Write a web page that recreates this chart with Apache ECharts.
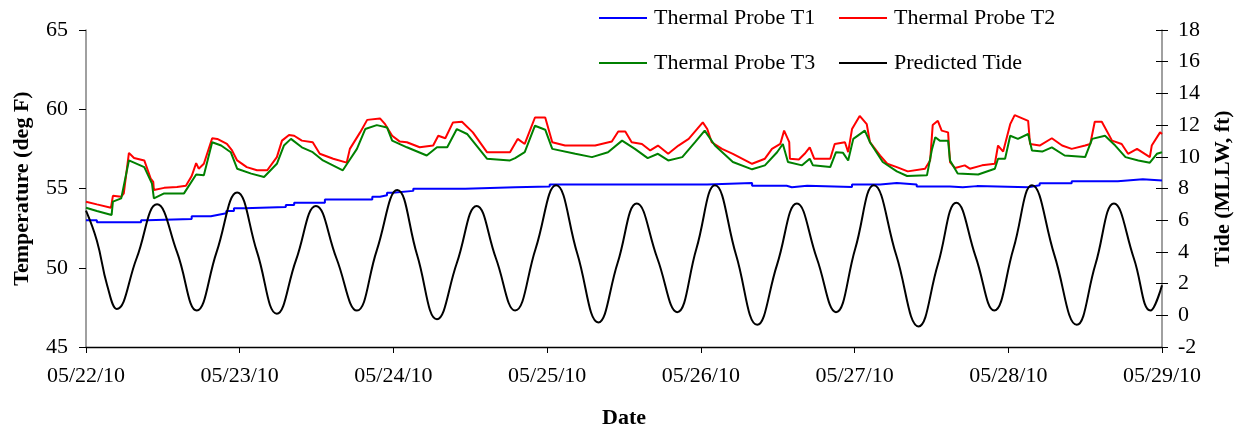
<!DOCTYPE html>
<html>
<head>
<meta charset="utf-8">
<script src="https://cdn.jsdelivr.net/npm/echarts@6/dist/echarts.min.js"></script>
<style>
html,body{margin:0;padding:0;background:#fff;}
#chart{width:1242px;height:434px;}
</style>
</head>
<body>
<div id="chart"></div>
<script>
// hours since 05/22/10 00:00, value
var dateLabels = ['05/22/10','05/23/10','05/24/10','05/25/10','05/26/10','05/27/10','05/28/10','05/29/10'];

var probeT1 = [[0,53.0],[1.7,52.87],[8.6,53.0],[9.5,53.08],[16.5,53.25],[19.5,53.33],[20.5,53.44],[21.9,53.58],[23.1,53.75],[24.7,53.83],[31.2,53.96],[32.5,54.1],[37.3,54.3],[44.7,54.48],[45.9,54.58],[47.0,54.73],[47.9,54.85],[51.1,54.98],[59.2,55.08],[67.0,55.12],[72.4,55.25],[97.0,55.35],[104.0,55.17],[109.4,55.08],[110.2,55.17],[112.6,55.1],[119.6,55.25],[124.0,55.35],[126.6,55.25],[129.7,55.12],[134.9,55.08],[136.9,55.15],[139.1,55.08],[147.1,55.2],[148.9,55.33],[153.9,55.46],[161.1,55.58],[165.0,55.5],[168,55.5]];

var probeT2 = [[0,54.17],[1.7,54.0],[3.9,53.79],[4.2,54.54],[5.5,54.48],[5.9,54.69],[6.7,57.25],[7.5,56.92],[9.1,56.77],[10.1,55.63],[10.5,55.42],[10.6,54.9],[12.2,55.04],[14.2,55.1],[15.6,55.17],[16.5,55.79],[17.2,56.6],[17.6,56.25],[18.4,56.56],[19.7,58.17],[20.5,58.13],[22.0,57.81],[22.8,57.4],[23.6,56.77],[25.1,56.35],[26.7,56.15],[28.3,56.15],[29.8,56.98],[30.6,58.02],[31.7,58.38],[32.5,58.33],[33.7,58.02],[35.4,57.92],[36.5,57.19],[38.6,56.88],[40.7,56.63],[41.2,57.5],[42.8,58.54],[43.9,59.33],[45.9,59.42],[46.7,59.06],[47.8,58.33],[49.0,57.96],[50.1,57.92],[52.1,57.6],[54.2,57.71],[55.0,58.33],[56.1,58.17],[57.3,59.17],[58.7,59.21],[60.4,58.54],[62.6,57.29],[66.2,57.29],[67.4,58.13],[68.5,57.81],[70.1,59.48],[71.7,59.48],[72.8,57.92],[74.8,57.71],[79.5,57.71],[82.1,57.96],[83.1,58.6],[84.2,58.6],[85.2,57.92],[86.8,57.81],[88.1,57.4],[89.3,57.71],[90.9,57.19],[92.5,57.71],[94.1,58.13],[96.3,59.17],[97.0,58.75],[97.7,57.92],[99.3,57.5],[101.0,57.19],[104.0,56.56],[106.0,56.88],[107.1,57.5],[108.4,57.81],[109.0,58.65],[109.8,57.92],[109.9,56.88],[111.3,56.83],[112.2,57.19],[113.0,57.6],[113.7,56.88],[116.2,56.88],[116.9,57.81],[118.5,57.92],[119.0,57.29],[119.6,58.75],[120.8,59.58],[121.9,59.06],[122.4,57.92],[124.0,57.08],[125.1,56.56],[126.6,56.35],[128.3,56.08],[131.0,56.25],[131.8,56.77],[132.2,59.0],[133.0,59.27],[133.6,58.65],[134.6,58.54],[134.9,56.67],[135.7,56.29],[137.2,56.46],[138.0,56.25],[139.9,56.46],[141.9,56.56],[142.4,57.71],[143.2,57.33],[144.3,59.06],[145.0,59.63],[147.1,59.27],[147.4,57.81],[148.9,57.71],[150.8,58.17],[152.4,57.71],[153.9,57.5],[156.0,57.71],[156.8,57.81],[157.5,59.21],[158.6,59.21],[160.2,58.02],[161.7,57.81],[162.7,57.19],[164.1,57.5],[166.1,56.98],[166.4,57.71],[167.7,58.54],[168,58.44]];

var probeT3 = [[0,53.79],[1.7,53.58],[4.0,53.33],[4.2,54.17],[5.5,54.38],[6.7,56.77],[7.5,56.63],[9.1,56.35],[10.3,55.31],[10.6,54.38],[12.2,54.69],[15.3,54.69],[17.2,55.88],[18.4,55.83],[19.7,57.92],[21.1,57.71],[22.6,57.29],[23.6,56.25],[25.8,55.94],[27.8,55.73],[29.8,56.56],[30.9,57.71],[32.0,58.13],[33.7,57.6],[35.4,57.29],[37.0,56.77],[40.1,56.15],[41.1,56.77],[42.3,57.5],[43.6,58.75],[45.4,59.0],[47.0,58.85],[47.8,58.02],[50.1,57.6],[53.2,57.08],[54.8,57.6],[56.4,57.6],[57.9,58.75],[59.5,58.44],[62.6,56.88],[66.2,56.77],[67.0,56.92],[68.5,57.29],[70.1,58.96],[71.7,58.71],[72.8,57.5],[76.4,57.19],[79.0,56.98],[81.5,57.29],[83.7,58.02],[85.7,57.5],[87.7,56.92],[89.3,57.19],[90.9,56.77],[93.1,56.98],[95.1,57.92],[96.6,58.65],[98.2,57.71],[101.0,56.67],[104.0,56.21],[106.0,56.46],[107.9,57.29],[108.8,57.81],[109.6,56.67],[111.8,56.46],[113.0,56.88],[113.5,56.46],[116.2,56.35],[117.1,57.29],[118.2,57.25],[119.0,56.77],[119.8,58.13],[121.6,58.65],[122.4,57.92],[124.4,56.67],[126.6,56.08],[128.2,55.79],[131.3,55.83],[132.1,57.5],[132.6,58.23],[133.3,58.02],[134.6,58.02],[134.9,56.77],[136.1,55.94],[139.3,55.88],[141.9,56.25],[142.4,56.88],[143.5,56.88],[144.3,58.33],[145.5,58.13],[147.1,58.44],[147.7,57.4],[149.3,57.33],[150.8,57.6],[152.8,57.08],[156.0,56.98],[157.1,58.13],[159.1,58.33],[160.7,57.71],[162.3,56.98],[164.3,56.77],[166.1,56.63],[167.2,57.19],[168,57.29]];

var predictedTide = [[0,6.6],[1.7,4.7],[3.3,1.9],[4.8,0.4],[7.9,3.6],[11.1,7.0],[14.2,4.0],[17.3,0.3],[20.4,4.0],[23.6,7.75],[26.7,4.0],[29.8,0.1],[32.8,3.5],[35.9,6.9],[39.1,3.6],[42.3,0.3],[45.4,4.1],[48.6,7.9],[51.7,3.8],[54.8,-0.25],[57.9,3.3],[61.0,6.9],[64.0,3.6],[67.0,0.3],[70.2,4.2],[73.4,8.2],[76.7,3.9],[80.0,-0.45],[83.0,3.3],[86.0,7.05],[89.2,3.6],[92.3,0.2],[95.3,4.2],[98.2,8.2],[101.5,3.8],[104.8,-0.6],[107.9,3.2],[111.0,7.05],[114.1,3.6],[117.1,0.2],[120.1,4.2],[123.0,8.2],[126.5,3.8],[130.0,-0.7],[133.0,3.2],[135.9,7.1],[138.9,3.7],[141.8,0.3],[144.8,4.2],[147.7,8.2],[151.2,3.8],[154.7,-0.6],[157.6,3.2],[160.5,7.05],[163.6,3.6],[166.2,0.3],[168,1.9]];

var FONT = 'Liberation Serif';
var chart = echarts.init(document.getElementById('chart'), null, {renderer: 'canvas'});
function legendAt(name, left, top) {
  return {
    data: [name], left: left, top: top, orient: 'horizontal',
    icon: 'rect', itemWidth: 48, itemHeight: 2, itemGap: 0, padding: 0,
    textStyle: {fontFamily: FONT, fontSize: 22, color: '#000', padding: [0,0,0,2]},
    selectedMode: false
  };
}
var option = {
  backgroundColor: '#fff',
  animation: false,
  legend: [
    legendAt('Thermal Probe T1', 599, 7),
    legendAt('Thermal Probe T2', 839, 7),
    legendAt('Thermal Probe T3', 599, 52),
    legendAt('Predicted Tide', 839, 52)
  ],
  grid: {left: 86, right: 80, top: 30, bottom: 84, containLabel: false},
  xAxis: {
    type: 'value', min: 0, max: 168, interval: 24,
    name: 'Date', nameLocation: 'middle', nameGap: 60,
    nameTextStyle: {fontFamily: FONT, fontSize: 22, fontWeight: 'bold', color: '#000'},
    axisLine: {show: true, onZero: false, lineStyle: {color: '#000', width: 1.3}},
    axisTick: {show: true, length: 6, lineStyle: {color: '#000'}},
    axisLabel: {fontFamily: FONT, fontSize: 22, color: '#000', margin: 18,
      formatter: function (v) { return dateLabels[Math.round(v / 24)]; }},
    splitLine: {show: false}
  },
  yAxis: [
    {
      type: 'value', min: 45, max: 65, interval: 5, position: 'left',
      name: 'Temperature (deg F)', nameLocation: 'middle', nameGap: 53, nameRotate: 90,
      nameTextStyle: {fontFamily: FONT, fontSize: 22, fontWeight: 'bold', color: '#000'},
      axisLine: {show: true, onZero: false, lineStyle: {color: '#808080', width: 1.5}},
      axisTick: {show: true, length: 7, lineStyle: {color: '#000'}},
      axisLabel: {fontFamily: FONT, fontSize: 22, color: '#000', margin: 18},
      splitLine: {show: false}
    },
    {
      type: 'value', min: -2, max: 18, interval: 2, position: 'right',
      name: 'Tide (MLLW, ft)', nameLocation: 'middle', nameGap: 50, nameRotate: 90,
      nameTextStyle: {fontFamily: FONT, fontSize: 22, fontWeight: 'bold', color: '#000'},
      axisLine: {show: true, onZero: false, lineStyle: {color: '#808080', width: 1.5}},
      axisTick: {show: true, length: 6, lineStyle: {color: '#000'}},
      axisLabel: {fontFamily: FONT, fontSize: 22, color: '#000', margin: 16},
      splitLine: {show: false}
    },
    {
      type: 'value', min: -2, max: 18, interval: 2, position: 'right',
      axisLine: {show: false, onZero: false},
      axisTick: {show: true, inside: true, length: 6, lineStyle: {color: '#000'}},
      axisLabel: {show: false},
      splitLine: {show: false}
    }
  ],
  series: [
    {name: 'Thermal Probe T1', type: 'line', data: probeT1, yAxisIndex: 0, step: 'end',
     symbol: 'none', lineStyle: {color: '#0000FF', width: 2}, itemStyle: {color: '#0000FF'}},
    {name: 'Thermal Probe T2', type: 'line', data: probeT2, yAxisIndex: 0,
     symbol: 'none', lineStyle: {color: '#FF0000', width: 2}, itemStyle: {color: '#FF0000'}},
    {name: 'Thermal Probe T3', type: 'line', data: probeT3, yAxisIndex: 0,
     symbol: 'none', lineStyle: {color: '#008000', width: 2}, itemStyle: {color: '#008000'}},
    {name: 'Predicted Tide', type: 'line', data: predictedTide, yAxisIndex: 1, smooth: 0.45,
     symbol: 'none', lineStyle: {color: '#000000', width: 2}, itemStyle: {color: '#000000'}}
  ]
};
chart.setOption(option);
</script>
</body>
</html>
